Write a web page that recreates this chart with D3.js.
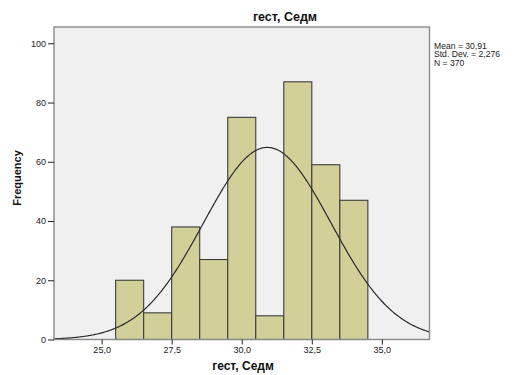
<!DOCTYPE html>
<html>
<head>
<meta charset="utf-8">
<script src="https://cdn.jsdelivr.net/npm/d3@7"></script>
<style>
  html, body { margin: 0; padding: 0; background: #ffffff; }
  svg { display: block; font-family: "Liberation Sans", Arial, sans-serif; }
</style>
</head>
<body>
<svg id="chart" width="515" height="375"></svg>
<script>
// Histogram bins (lower edge of each 1-unit bin) and frequencies
const binLower = [25.5, 26.5, 27.5, 28.5, 29.5, 30.5, 31.5, 32.5, 33.5];
const binWidth = 1;
const counts   = [20, 9, 38, 27, 75, 8, 87, 59, 47];

// Axis ticks
const xTicks = [25, 27.5, 30, 32.5, 35];
const yTicks = [0, 20, 40, 60, 80, 100];

// Summary statistics for the fitted normal curve
const statMean = 30.91;
const statSD   = 2.276;
const statN    = 370;
const statLines = ["Mean = 30,91", "Std. Dev. = 2,276", "N = 370"];

const titleText = "гест, Седм";
const xLabel = "гест, Седм";
const yLabel = "Frequency";

const svg = d3.select("#chart");
const plot = { left: 54, right: 429.5, top: 27, bottom: 339.5 };

const x = d3.scaleLinear().domain([23.3, 36.7]).range([plot.left, plot.right]);
const y = d3.scaleLinear().domain([0, 105.5]).range([plot.bottom, plot.top]);

const fmt = d => d3.format(".1f")(d).replace(".", ",");

// Plot background
svg.append("rect")
  .attr("x", plot.left).attr("y", plot.top)
  .attr("width", plot.right - plot.left).attr("height", plot.bottom - plot.top)
  .attr("fill", "#f0f0f0");

svg.append("defs").append("clipPath").attr("id", "plotClip")
  .append("rect")
  .attr("x", plot.left).attr("y", plot.top)
  .attr("width", plot.right - plot.left).attr("height", plot.bottom - plot.top);

// Bars
svg.append("g").selectAll("rect")
  .data(counts.map((c, i) => ({ lo: binLower[i], c })))
  .join("rect")
  .attr("x", d => x(d.lo))
  .attr("y", d => y(d.c))
  .attr("width", d => x(d.lo + binWidth) - x(d.lo))
  .attr("height", d => y(0) - y(d.c))
  .attr("fill", "#d3cf98")
  .attr("stroke", "#3c3c3c")
  .attr("stroke-width", 1.1);

// Normal curve scaled to counts
const pdf = v => statN * binWidth / (statSD * Math.sqrt(2 * Math.PI)) *
  Math.exp(-0.5 * Math.pow((v - statMean) / statSD, 2));
const curvePts = d3.range(0, 401).map(i => {
  const v = 23.3 + (36.7 - 23.3) * i / 400;
  return [v, pdf(v)];
});
svg.append("path")
  .datum(curvePts)
  .attr("clip-path", "url(#plotClip)")
  .attr("fill", "none")
  .attr("stroke", "#2a2a2a")
  .attr("stroke-width", 1.2)
  .attr("d", d3.line().x(d => x(d[0])).y(d => y(d[1])).curve(d3.curveBasis));

// Frame
svg.append("rect")
  .attr("x", plot.left).attr("y", plot.top)
  .attr("width", plot.right - plot.left).attr("height", plot.bottom - plot.top)
  .attr("fill", "none")
  .attr("stroke", "#8a8a8a")
  .attr("stroke-width", 1.4);

// Y axis
const yAxis = svg.append("g")
  .attr("transform", `translate(${plot.left},0)`)
  .call(d3.axisLeft(y).tickValues(yTicks).tickSize(6).tickPadding(2).tickFormat(d3.format("d")));
yAxis.select(".domain").remove();
yAxis.selectAll("line").attr("stroke", "#222");
yAxis.selectAll("text").attr("font-size", 9).attr("fill", "#222")
  .attr("font-family", "'Liberation Sans', Arial, sans-serif");

// X axis
const xAxis = svg.append("g")
  .attr("transform", `translate(0,${plot.bottom})`)
  .call(d3.axisBottom(x).tickValues(xTicks).tickSize(5).tickPadding(2).tickFormat(fmt));
xAxis.select(".domain").remove();
xAxis.selectAll("line").attr("stroke", "#222");
xAxis.selectAll("text").attr("font-size", 9).attr("fill", "#222")
  .attr("font-family", "'Liberation Sans', Arial, sans-serif");

// Titles
svg.append("text")
  .attr("x", 285).attr("y", 21)
  .attr("text-anchor", "middle")
  .attr("font-size", 12.5).attr("font-weight", "bold").attr("fill", "#111")
  .text(titleText);

svg.append("text")
  .attr("x", 243).attr("y", 370)
  .attr("text-anchor", "middle")
  .attr("font-size", 12).attr("font-weight", "bold").attr("fill", "#111")
  .text(xLabel);

svg.append("text")
  .attr("transform", "translate(21,178) rotate(-90)")
  .attr("text-anchor", "middle")
  .attr("font-size", 11).attr("font-weight", "bold").attr("fill", "#111")
  .text(yLabel);

// Statistics box
svg.append("g").selectAll("text")
  .data(statLines)
  .join("text")
  .attr("x", 434)
  .attr("y", (d, i) => 48.5 + i * 8.5)
  .attr("font-size", 8.6).attr("fill", "#222")
  .text(d => d);
</script>
</body>
</html>
